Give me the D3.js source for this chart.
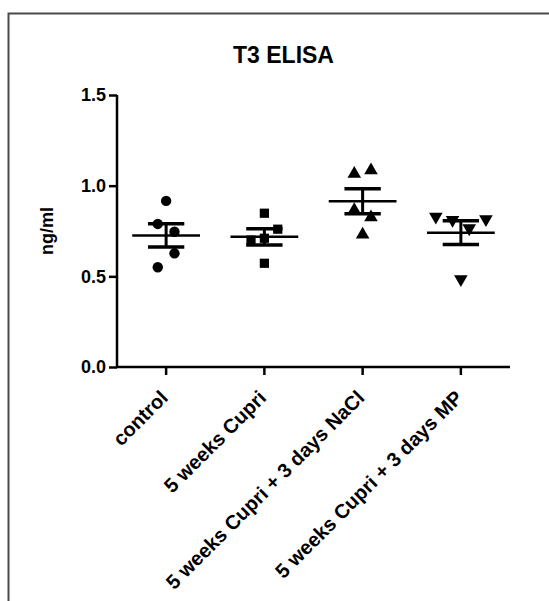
<!DOCTYPE html>
<html>
<head>
<meta charset="utf-8">
<script src="https://cdn.jsdelivr.net/npm/d3@7"></script>
<style>
  html, body { margin: 0; padding: 0; background: #fff; }
  svg { display: block; font-family: "Liberation Sans", Arial, sans-serif; }
</style>
</head>
<body>
<svg id="chart" width="549" height="601"></svg>
<script>
// ---- data ----
const title = "T3 ELISA";
const yLabel = "ng/ml";
const categories = ["control", "5 weeks Cupri", "5 weeks Cupri + 3 days NaCl", "5 weeks Cupri + 3 days MP"];
const symbols = ["circle", "square", "triangle", "triangleDown"];
const controlValues = [0.916, 0.789, 0.746, 0.627, 0.55];
const cupriValues = [0.848, 0.70, 0.71, 0.76, 0.572];
const naclValues = [1.065, 1.085, 0.865, 0.825, 0.73];
const mpValues = [0.829, 0.811, 0.765, 0.815, 0.484];
// horizontal scatter slots (point arrangement)
const controlSlots = [0, -0.5, 0.5, 0.5, -0.5];
const cupriSlots = [0, -0.8, 0, 0.8, 0];
const naclSlots = [-0.5, 0.5, -0.5, 0.5, 0];
const mpSlots = [-1.5, -0.5, 0.5, 1.5, 0];
const yTicks = [0.0, 0.5, 1.0, 1.5];

const groups = [controlValues, cupriValues, naclValues, mpValues];
const slots = [controlSlots, cupriSlots, naclSlots, mpSlots];

(function () {
// ---- layout ----
const svg = d3.select("#chart");
const mLeft = 117, mRight = 510, mTop = 95, mBottom = 367;

const x = d3.scaleBand().domain(categories).range([mLeft, mRight]).padding(0);
const y = d3.scaleLinear().domain([0, 1.5]).range([mBottom, mTop]);

// frame
svg.append("path")
  .attr("d", `M8.5,601 L8.5,13.5 L549,13.5`)
  .attr("fill", "none").attr("stroke", "#4a4a4a").attr("stroke-width", 2);

// title
svg.append("text").attr("x", 283.5).attr("y", 63)
  .attr("text-anchor", "middle").attr("font-size", 23).attr("font-weight", "bold")
  .text(title);

// y axis
const yAxis = svg.append("g").attr("transform", `translate(${mLeft},0)`)
  .call(d3.axisLeft(y).tickValues(yTicks).tickFormat(d3.format(".1f")).tickSize(8).tickPadding(3));
yAxis.select(".domain").attr("stroke", "#000").attr("stroke-width", 2.5).attr("d", `M0,${mTop}V${mBottom}`);
yAxis.selectAll(".tick line").attr("stroke", "#000").attr("stroke-width", 2.5);
yAxis.selectAll(".tick text").attr("font-size", 18).attr("font-weight", "bold")
  .attr("fill", "#000").attr("font-family", "Liberation Sans, Arial, sans-serif");

// x axis
const xAxis = svg.append("g").attr("transform", `translate(0,${mBottom})`)
  .call(d3.axisBottom(x).tickSize(8).tickSizeOuter(0));
xAxis.select(".domain").attr("stroke", "#000").attr("stroke-width", 2.5).attr("d", `M${mLeft - 1},0H${mRight}`);
xAxis.selectAll(".tick line").attr("stroke", "#000").attr("stroke-width", 2.5);
xAxis.selectAll(".tick text")
  .attr("font-size", 20).attr("font-weight", "bold").attr("fill", "#000")
  .attr("font-family", "Liberation Sans, Arial, sans-serif")
  .attr("text-anchor", "end")
  .attr("y", 0).attr("dy", 0)
  .attr("transform", "translate(3,32) rotate(-45)");

// y label
svg.append("text")
  .attr("transform", `translate(53,${(mTop + mBottom) / 2}) rotate(-90)`)
  .attr("text-anchor", "middle").attr("font-size", 18).attr("font-weight", "bold")
  .text(yLabel);

// markers
const symMap = {
  circle: d3.symbolCircle, square: d3.symbolSquare,
  triangle: d3.symbolTriangle, triangleDown: d3.symbolTriangle
};
const symSize = { circle: 85, square: 85, triangle: 80, triangleDown: 80 };

groups.forEach((vals, gi) => {
  const cx = x(categories[gi]) + x.bandwidth() / 2;
  const unit = x.bandwidth() * 0.17;
  const n = vals.length;
  const mean = d3.mean(vals);
  const sem = d3.deviation(vals) / Math.sqrt(n);
  const g = svg.append("g");
  const sym = symbols[gi];
  g.selectAll("path.pt").data(vals).enter().append("path")
    .attr("class", "pt")
    .attr("d", d3.symbol().type(symMap[sym]).size(symSize[sym]))
    .attr("transform", (d, i) => `translate(${cx + slots[gi][i] * unit},${y(d)})${sym === "triangleDown" ? " rotate(180)" : ""}`)
    .attr("fill", "#000");
  const meanHalf = x.bandwidth() * 0.345;
  const capHalf = x.bandwidth() * 0.185;
  g.append("line").attr("x1", cx - meanHalf).attr("x2", cx + meanHalf)
    .attr("y1", y(mean)).attr("y2", y(mean)).attr("stroke", "#000").attr("stroke-width", 2.5);
  g.append("line").attr("x1", cx).attr("x2", cx)
    .attr("y1", y(mean + sem)).attr("y2", y(mean - sem)).attr("stroke", "#000").attr("stroke-width", 3);
  [mean + sem, mean - sem].forEach(v => {
    g.append("line").attr("x1", cx - capHalf).attr("x2", cx + capHalf)
      .attr("y1", y(v)).attr("y2", y(v)).attr("stroke", "#000").attr("stroke-width", 3.5);
  });
});
})();
</script>
</body>
</html>
